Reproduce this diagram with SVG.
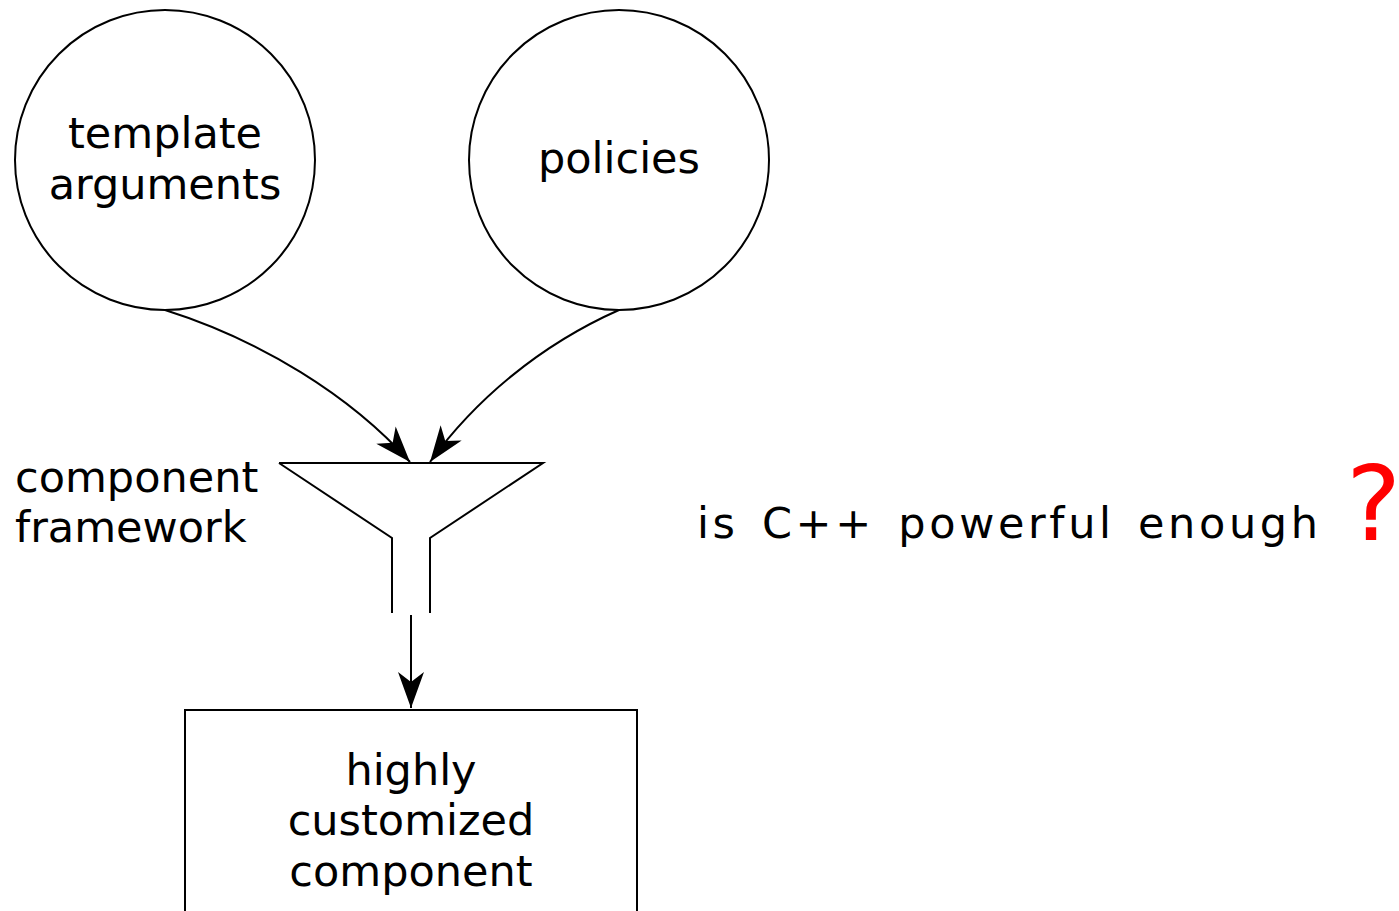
<svg xmlns="http://www.w3.org/2000/svg" width="1399" height="911" viewBox="0 0 1399 911">
<style>
.s{fill:none;stroke:#000;stroke-width:2}
.t{font-family:"DejaVu Sans",sans-serif;font-size:43px;fill:#000}
.c{text-anchor:middle}
</style>
<defs>
<marker id="ah" markerUnits="userSpaceOnUse" markerWidth="40" markerHeight="30" viewBox="-37 -15 38 30" refX="0" refY="0" orient="auto">
<path d="M0,0 L-36,-13 L-26,0 L-36,13 Z" fill="#000"/>
</marker>
</defs>
<rect width="1399" height="911" fill="#fff"/>
<g id="template-arguments">
<circle class="s" cx="165" cy="160" r="150"/>
<text class="t c" x="165" y="148">template</text>
<text class="t c" x="165" y="199">arguments</text>
</g>
<g id="policies">
<circle class="s" cx="619" cy="160" r="150"/>
<text class="t c" x="619" y="173">policies</text>
</g>
<g id="component-framework">
<path class="s" d="M279,463 H543 L430,538 V613 M392,613 V538 L279,463"/>
<text class="t" x="15" y="492">component</text>
<text class="t" x="15" y="542">framework</text>
</g>
<g id="highly-customized-component">
<rect class="s" x="185" y="710" width="452" height="220"/>
<text class="t c" x="411" y="785">highly</text>
<text class="t c" x="411" y="835">customized</text>
<text class="t c" x="411" y="886">component</text>
</g>
<g id="question">
<text class="t" x="697" y="538" textLength="621" lengthAdjust="spacing" style="word-spacing:6px">is C++ powerful enough</text>
<text x="1346" y="540" style="font-family:'DejaVu Sans',sans-serif;font-size:104px;fill:#ff0000">?</text>
</g>
<g id="connectors">
<path class="s" d="M165,310 C260,340 350,395 410,462" marker-end="url(#ah)"/>
<path class="s" d="M619,310 C540,345 475,400 430,462" marker-end="url(#ah)"/>
<path class="s" d="M411,615 V708" marker-end="url(#ah)"/>
</g>
</svg>
